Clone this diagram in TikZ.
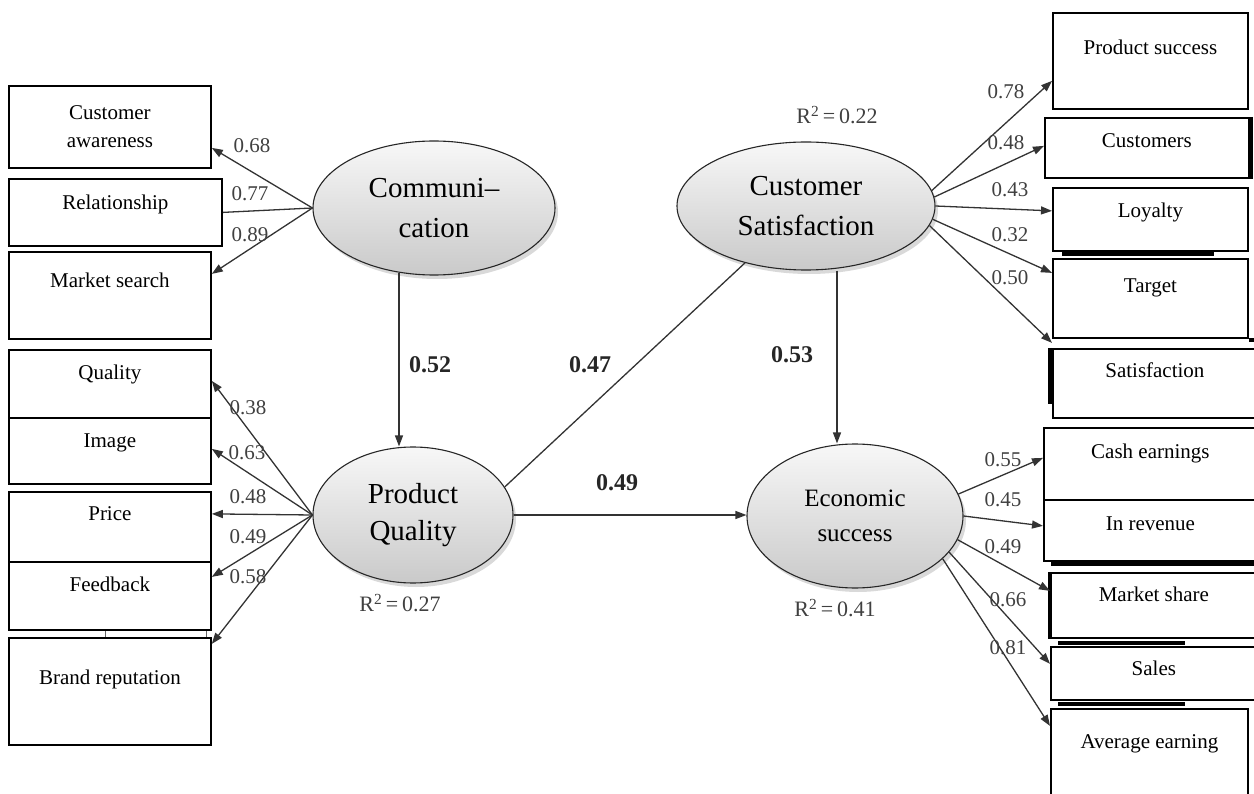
\documentclass[tikz,border=0pt]{standalone}
\usepackage{fontspec}
\setmainfont{Liberation Serif}
\usepackage{tikz}
\usetikzlibrary{positioning,shapes.geometric,shadows,arrows.meta}

\tikzset{
  frame/.style={draw, line width=1.8pt, inner sep=0pt, anchor=north west,
    font=\fontsize{21}{28}\selectfont},
  box/.style n args={3}{frame, minimum width=#1pt, text height=#2pt, text depth=#3pt},
  latent/.style={ellipse, draw=black!85, line width=1.1pt, inner sep=0pt, align=center,
    top color=gray!6, bottom color=gray!42,
    drop shadow={opacity=0.3, shadow xshift=3pt, shadow yshift=-4pt}},
  link/.style={line width=1.3pt, draw=black!80},
  load/.style={link, -{Triangle[length=11pt,width=8pt]}},
  coef/.style={font=\fontsize{21}{24}\selectfont, text=black!75},
  bcoef/.style={font=\bfseries\fontsize{24}{28}\selectfont, text=black!85},
  rsq/.style={font=\fontsize{22}{24}\selectfont, text=black!75},
  smear/.style={line width=3.5pt},
}

\begin{document}
\begin{tikzpicture}[x=1pt,y=-1pt]
\useasboundingbox (0,0) rectangle (1254,794);

% indicators, left side
\node[frame, minimum width=202pt, minimum height=82pt, align=center] (aware) at (8,85) {Customer\\awareness};
\node[box={213}{31}{36}] (relat) at (8,178) {Relationship};
\node[box={202}{36}{51}] (msearch) at (8,251) {Market search};
\node[box={202}{30}{38}] (quality) at (8,349) {Quality};
\node[box={202}{30}{36}] (image) at (8,417) {Image};
\node[box={202}{29}{41}] (price) at (8,491) {Price};
\node[box={202}{30}{38}] (feedb) at (8,561) {Feedback};
\node[box={202}{47}{60}] (brand) at (8,637) {Brand reputation};

% indicators, right side
\node[box={195}{42}{54}] (psucc) at (1052,12) {Product success};
\node[box={204}{30}{30}] (custs) at (1044,117) {Customers};
\node[box={195}{30}{33}] (loyal) at (1052,187) {Loyalty};
\node[box={195}{34}{45}] (target) at (1052,258) {Target};
\node[box={204}{29}{40}] (satis) at (1052,348) {Satisfaction};
\node[box={213}{31}{41}] (cash) at (1043,427) {Cash earnings};
\node[box={213}{31}{30}] (reven) at (1043,499) {In revenue};
\node[box={206}{29}{36}] (mshare) at (1050,572) {Market share};
\node[box={206}{29}{24}] (sales) at (1050,646) {Sales};
\node[box={197}{40}{60}] (avg) at (1050,708) {Average earning};

% rough edges of the boxes
\draw[smear] ([xshift=1.5pt]custs.north east) -- ([xshift=1.5pt]custs.south east);
\draw[smear] ([xshift=10pt,yshift=-2pt]loyal.south west) -- ([xshift=-35pt,yshift=-2pt]loyal.south east);
\draw[smear] ([xshift=-2pt]satis.north west) -- ([xshift=-2pt,yshift=15pt]satis.south west);
\draw[smear] ([yshift=-1pt]target.south east) -- ++(10,0);
\draw[smear] ([xshift=8pt,yshift=-2pt]reven.south west) -- ([xshift=-3pt,yshift=-2pt]reven.south east);
\draw[smear] (mshare.north west) -- (mshare.south west);
\draw[smear] ([xshift=8pt,yshift=3pt]sales.north west) -- ([xshift=135pt,yshift=3pt]sales.north west);
\draw[smear] ([xshift=8pt,yshift=-3pt]sales.south west) -- ([xshift=135pt,yshift=-3pt]sales.south west);
\draw[black!60, line width=1pt] ([xshift=-4pt]feedb.south) -- ([xshift=-4pt]brand.north);
\draw[black!60, line width=1pt] ([xshift=-5pt]feedb.south east) -- ([xshift=-5pt]brand.north east);

% latent variables
\node[latent, minimum width=242pt, minimum height=134pt, font=\fontsize{29}{40}\selectfont] (comm) at (434,208) {Communi--\\cation};
\node[latent, minimum width=200pt, minimum height=136pt, font=\fontsize{29}{37}\selectfont] (pq) at (413,515) {Product\\Quality};
\node[latent, minimum width=258pt, minimum height=128pt, font=\fontsize{29}{40}\selectfont] (cs) at (806,206) {Customer\\Satisfaction};
\node[latent, minimum width=216pt, minimum height=144pt, font=\fontsize{25}{35}\selectfont] (es) at (855,516) {Economic\\success};

% loadings
\draw[load] (comm.west) -- ([yshift=-21pt]aware.east);
\draw[link] (comm.west) -- (relat.east);
\draw[load] (comm.west) -- ([yshift=21.5pt]msearch.east);
\foreach \n/\s in {quality/3, image/2, price/13, feedb/19, brand/47.5}
  \draw[load] (pq.west) -- ([yshift=\s pt]\n.east);
\foreach \a/\n/\s in {7/psucc/-20, 4/custs/2, 0/loyal/8.5, -6/target/25.5, -9/satis/40.5}
  \draw[load] (cs.\a) -- ([yshift=\s pt]\n.west);
\foreach \a/\n/\s in {12/cash/6, 0/reven/4.5, -13/mshare/14.5, -21/sales/9.5, -26/avg/33}
  \draw[load] (es.\a) -- ([yshift=\s pt]\n.west);

% structural paths
\draw[load] ([xshift=-35pt,yshift=3pt]comm.south) -- ([xshift=-14pt]pq.north);
\draw[link] (cs.-137) -- (pq.17);
\draw[load] ([xshift=31pt]cs.south) -- ([xshift=-18pt]es.north);
\draw[load] (pq.east) -- (pq.east -| es.west);

% coefficients
\foreach \x/\y/\v [count=\i] in {252/146/0.68, 250/194/0.77, 250/235/0.89,
    248/408/0.38, 247/453/0.63, 248/497/0.48, 248/537/0.49, 248/577/0.58,
    1006/92/0.78, 1006/143/0.48, 1010/190/0.43, 1010/235/0.32, 1010/278/0.50,
    1003/460/0.55, 1003/500/0.45, 1003/547/0.49, 1008/600/0.66, 1008/648/0.81}
  \node[coef] (cl\i) at (\x,\y) {\v};
\node[bcoef] (b52) at (430,365) {0.52};
\node[bcoef] (b47) at (590,365) {0.47};
\node[bcoef] (b53) at (792,355) {0.53};
\node[bcoef] (b49) at (617,483) {0.49};
\node[rsq] (r22) at (837,115) {R\textsuperscript{2}\,=\,0.22};
\node[rsq] (r27) at (400,603) {R\textsuperscript{2}\,=\,0.27};
\node[rsq] (r41) at (835,608) {R\textsuperscript{2}\,=\,0.41};
\end{tikzpicture}
\end{document}
